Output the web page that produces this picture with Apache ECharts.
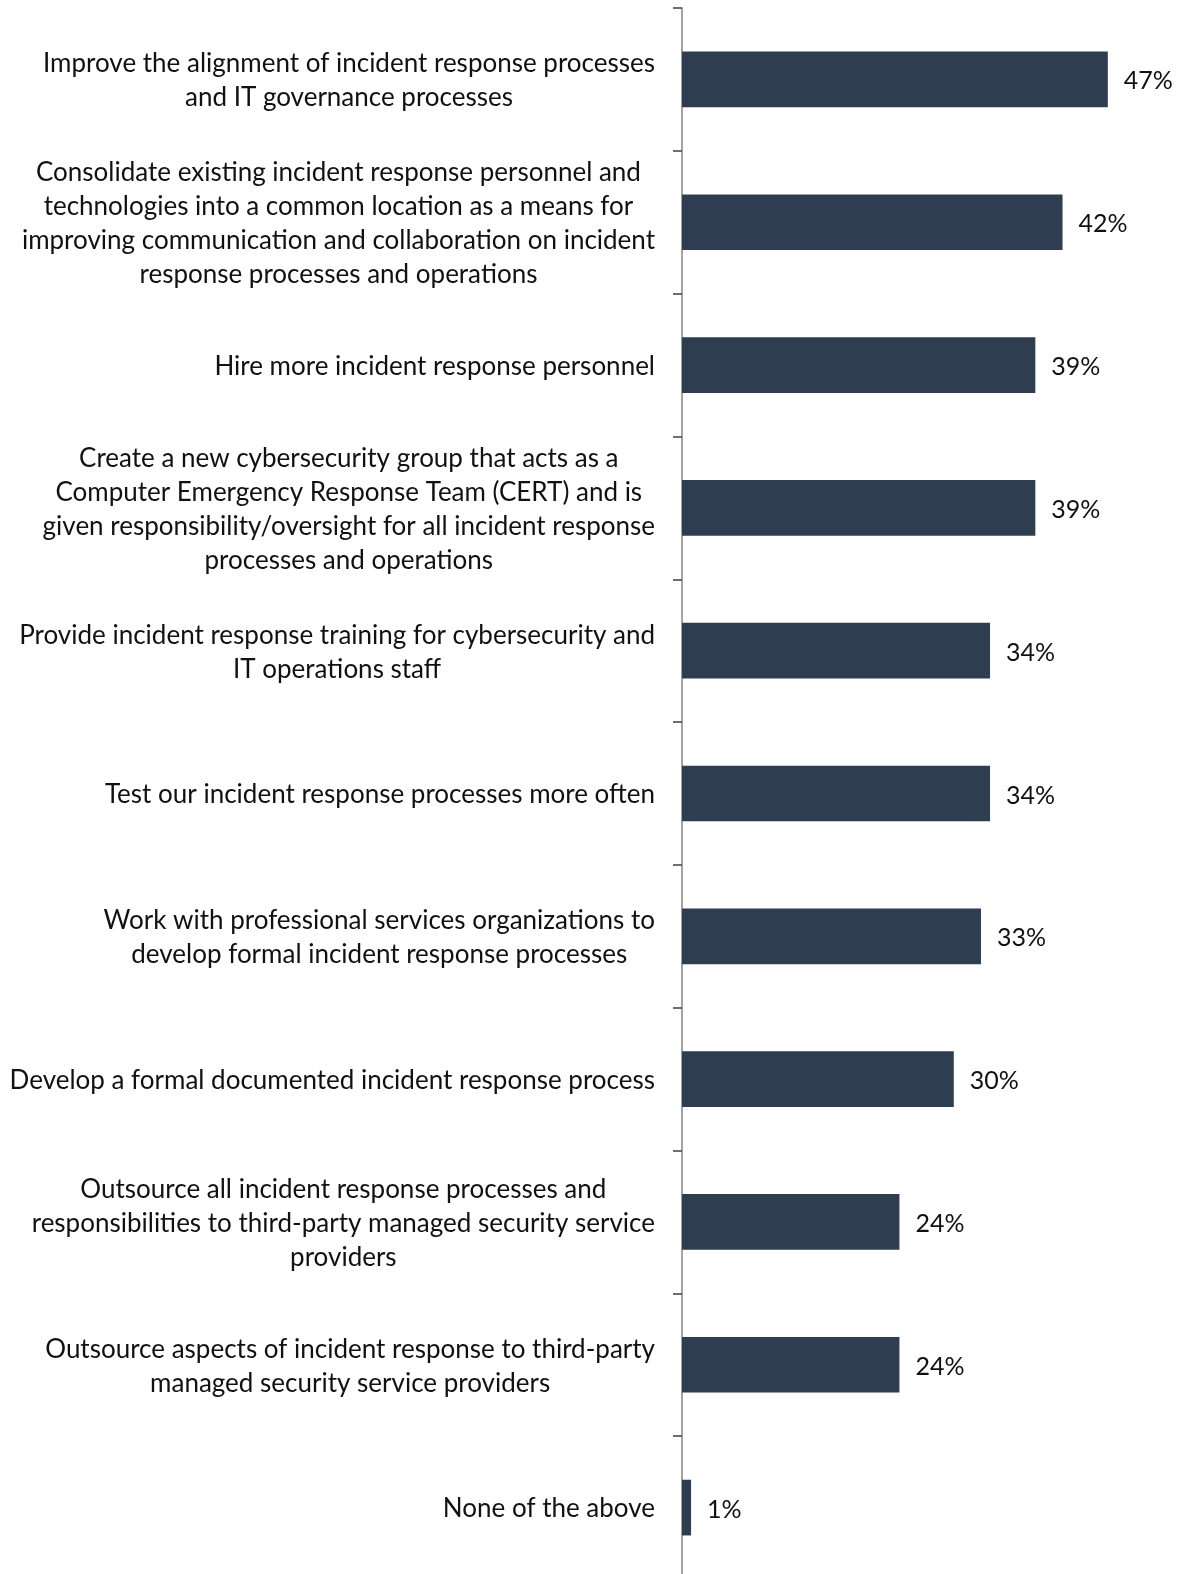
<!DOCTYPE html>
<html>
<head>
<meta charset="utf-8">
<script src="https://cdn.jsdelivr.net/npm/echarts@6/dist/echarts.min.js"></script>
<style>
  html, body { margin: 0; padding: 0; background: #ffffff; overflow: hidden; }
  /* the plot area continues a few pixels below the visible page */
  #chart { width: 1183px; height: 1580px; }
</style>
</head>
<body>
<div id="chart"></div>
<script>
// Survey responses: planned incident response improvements (share of respondents, %)
const categories = [
  "Improve the alignment of incident response processes\nand IT governance processes",
  "Consolidate existing incident response personnel and\ntechnologies into a common location as a means for\nimproving communication and collaboration on incident\nresponse processes and operations",
  "Hire more incident response personnel",
  "Create a new cybersecurity group that acts as a\nComputer Emergency Response Team (CERT) and is\ngiven responsibility/oversight for all incident response\nprocesses and operations",
  "Provide incident response training for cybersecurity and\nIT operations staff",
  "Test our incident response processes more often",
  "Work with professional services organizations to\ndevelop formal incident response processes",
  "Develop a formal documented incident response process",
  "Outsource all incident response processes and\nresponsibilities to third-party managed security service\nproviders",
  "Outsource aspects of incident response to third-party\nmanaged security service providers",
  "None of the above"
];
const values = [47, 42, 39, 39, 34, 34, 33, 30, 24, 24, 1];

const chart = echarts.init(document.getElementById('chart'), null, { renderer: 'canvas' });

const FONT = 'Lato, "Open Sans", sans-serif';

chart.setOption({
  animation: false,
  backgroundColor: '#ffffff',
  grid: { left: 682, width: 453, top: 8, height: 1571, containLabel: false },
  xAxis: {
    type: 'value',
    min: 0,
    max: 50,
    show: false
  },
  yAxis: {
    type: 'category',
    data: categories,
    inverse: true,
    axisLine: { show: true, lineStyle: { color: '#868686', width: 1.5 } },
    axisTick: { show: true, inside: false, length: 9, alignWithLabel: false, lineStyle: { color: '#404040', width: 1.5 } },
    splitLine: { show: false },
    axisLabel: {
      margin: 27,
      align: 'right',
      verticalAlign: 'middle',
      interval: 0,
      formatter: function (v) {
        return v.split('\n').map(function (line) { return '{c|' + line + '}'; }).join('\n');
      },
      rich: {
        c: {
          align: 'center',
          fontFamily: FONT,
          fontSize: 26,
          lineHeight: 34,
          padding: [3, 0, 0, 0],
          color: '#111111'
        }
      }
    }
  },
  series: [{
    type: 'bar',
    data: values,
    barWidth: '39%',
    itemStyle: { color: '#2E3E50' },
    label: {
      show: true,
      position: 'right',
      distance: 16,
      offset: [0, 2],
      formatter: '{c}%',
      fontFamily: FONT,
      fontSize: 25,
      color: '#111111'
    }
  }]
});
</script>
</body>
</html>
